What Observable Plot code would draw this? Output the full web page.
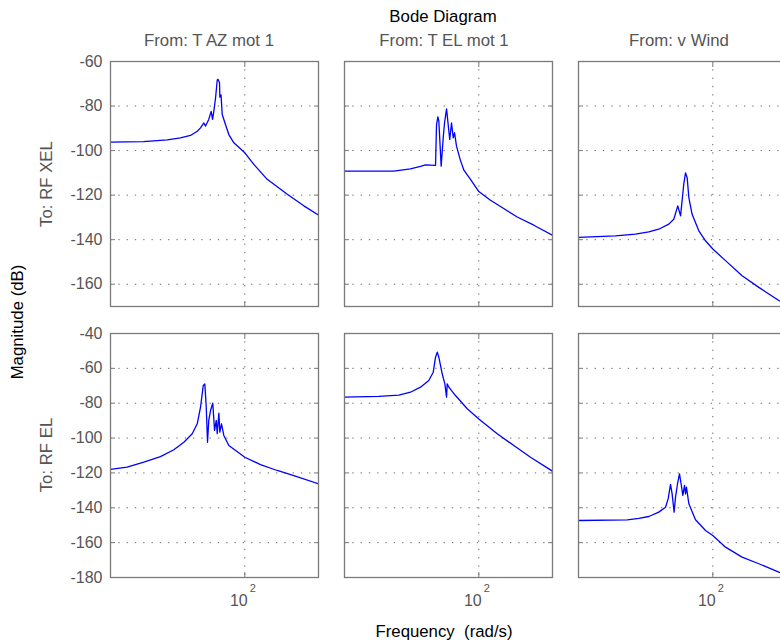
<!DOCTYPE html>
<html><head><meta charset="utf-8">
<script src="https://cdn.jsdelivr.net/npm/d3@7"></script>
<script src="https://cdn.jsdelivr.net/npm/@observablehq/plot@0.6"></script>
<style>
body{margin:0;background:#fff;}
#fig{position:relative;width:780px;height:641px;overflow:hidden;background:#fff;font-family:"Liberation Sans",Arial,sans-serif;}
.lbl{position:absolute;white-space:pre;font-size:16.8px;line-height:1;transform:translate(-50%,-50%);}
.rot{transform:translate(-50%,-50%) rotate(-90deg);}
</style></head><body><div id="fig"></div>
<script>
// ---- text ----
const chartTitle = "Bode Diagram";
const inputNames = ["From: T AZ mot 1", "From: T EL mot 1", "From: v Wind"];
const outputNames = ["To: RF XEL", "To: RF EL"];
const yTitle = "Magnitude (dB)";
const xTitle = "Frequency  (rad/s)";

// ---- scales / ticks ----
const freqDomain = [12, 320];
const topYDomain = [-170, -60];
const botYDomain = [-180, -40];
const topYTicks = [-160, -140, -120, -100, -80, -60];
const botYTicks = [-180, -160, -140, -120, -100, -80, -60, -40];
const xTicks = [100];
const xTickBase = "10";
const xTickExp = "2";

// ---- data: frequency (rad/s) and magnitude (dB) ----
const freqAZ_XEL = [12, 20.2, 29.4, 36.2, 42.4, 47.2, 49.7, 52.4, 53.8, 56.6, 58.8, 60.1, 61.3, 63.0, 64.7, 65.5, 67.1, 67.4, 68.7, 70.0, 73.7, 77.7, 84.1, 100, 115.3, 142.4, 195.5, 253.9, 320];
const magAZ_XEL  = [-96.2, -96.0, -95.2, -94.3, -93.2, -91.3, -89.8, -87.6, -89.0, -86.0, -82.4, -86.0, -82.4, -76.4, -68.3, -68.0, -69.5, -76.0, -75.0, -83.8, -88.3, -92.8, -96.5, -101.0, -106.2, -112.9, -119.6, -124.8, -128.9];

const freqEL_XEL = [12, 26.1, 34.0, 39.8, 43.1, 50.5, 51.3, 52.4, 53.2, 55.2, 57.0, 58.2, 60.1, 61.3, 63.2, 65.0, 66.8, 68.2, 70.3, 74.9, 79.2, 87.7, 100, 120.2, 140.9, 183.3, 238.3, 320];
const magEL_XEL  = [-109.2, -109.2, -108.2, -107.1, -106.4, -106.6, -88.3, -84.9, -86.8, -107.0, -94.3, -87.6, -81.3, -86.8, -95.0, -87.6, -94.3, -92.0, -98.0, -104.5, -108.9, -112.9, -118.4, -122.3, -125.1, -129.8, -133.5, -138.0];

const freqWind_XEL = [12, 21.5, 29.5, 36.4, 42.6, 49.9, 54.0, 57.5, 60.1, 63.2, 65.0, 66.7, 68.5, 72.1, 80.2, 89.1, 100, 122.2, 158.8, 206.7, 283.5, 320];
const magWind_XEL  = [-139.0, -138.3, -137.5, -136.5, -135.3, -133.0, -130.8, -124.8, -129.3, -115.1, -110.0, -112.2, -121.1, -128.6, -136.0, -140.5, -144.2, -149.4, -156.2, -161.4, -167.3, -169.0];

const freqAZ_EL = [12, 15.6, 20.3, 26.4, 32.6, 38.2, 43.6, 47.2, 49.7, 51.9, 53.2, 54.4, 55.5, 56.6, 58.2, 60.3, 62.0, 63.7, 64.7, 66.4, 67.4, 69.2, 71.8, 77.7, 100, 128.1, 166.8, 216.7, 320];
const magAZ_EL  = [-118.0, -116.7, -113.8, -110.6, -106.7, -102.4, -97.5, -91.8, -82.3, -69.8, -68.9, -82.3, -102.4, -89.9, -84.2, -80.0, -95.6, -89.9, -97.5, -85.7, -96.6, -91.8, -98.5, -104.3, -111.0, -115.2, -118.6, -121.5, -126.2];

const freqEL_EL = [12, 20.6, 28.3, 34.0, 39.8, 45.4, 48.7, 50.5, 51.9, 53.2, 56.1, 58.5, 60.1, 60.7, 62.3, 69.2, 83.3, 100, 133.7, 173.8, 226.1, 320];
const magEL_EL  = [-76.5, -76.1, -75.4, -73.7, -70.8, -67.0, -62.2, -53.6, -50.7, -53.6, -63.1, -68.9, -76.5, -68.9, -70.8, -75.6, -83.2, -89.0, -97.5, -104.3, -111.0, -119.0];

const freqWind_EL = [12, 25.9, 31.1, 36.4, 42.6, 47.4, 49.4, 51.3, 52.6, 54.3, 55.5, 57.3, 59.1, 60.6, 62.3, 64.0, 65.0, 66.0, 68.5, 76.1, 89.1, 100, 122.2, 158.8, 206.7, 283.5, 320];
const magWind_EL  = [-147.3, -146.9, -146.1, -145.0, -142.5, -139.7, -134.9, -126.6, -132.0, -142.5, -133.9, -126.2, -120.5, -126.2, -132.9, -127.2, -132.0, -128.2, -137.7, -146.9, -153.0, -155.9, -162.6, -168.3, -172.1, -176.9, -178.5];

const panels = [
  {row: 0, col: 0, f: freqAZ_XEL, m: magAZ_XEL},
  {row: 0, col: 1, f: freqEL_XEL, m: magEL_XEL},
  {row: 0, col: 2, f: freqWind_XEL, m: magWind_XEL},
  {row: 1, col: 0, f: freqAZ_EL, m: magAZ_EL},
  {row: 1, col: 1, f: freqEL_EL, m: magEL_EL},
  {row: 1, col: 2, f: freqWind_EL, m: magWind_EL}
];

// ---- layout ----
const fig = document.getElementById("fig");
const colLeft = [110, 344, 578];
const panelW = 208;
const rowTop = [61, 333];
const rowH = [245, 244];
const frameColor = "#7a7a7a";
const gridColor = "#666";
const tickColor = "#555";
const lineColor = "#0000ff";
const fontFam = "Liberation Sans, Arial, sans-serif";

panels.forEach(p => {
  const mL = p.col === 0 ? 60 : 6, mR = 6, mT = 6, mB = p.row === 1 ? 40 : 6;
  const yDom = p.row === 0 ? topYDomain : botYDomain;
  const yT = p.row === 0 ? topYTicks : botYTicks;
  const data = p.f.map((f, i) => ({f, db: p.m[i]}));
  const blank = () => "";
  const marks = [
    Plot.gridY(yT, {stroke: gridColor, strokeOpacity: 1, strokeDasharray: "1.3,7"}),
    Plot.gridX(xTicks, {stroke: gridColor, strokeOpacity: 1, strokeDasharray: "1.3,7"}),
    Plot.line(data, {x: "f", y: "db", stroke: lineColor, strokeWidth: 1.3, clip: true}),
    Plot.axisY(yT, {anchor: "left", tickSize: 5, dx: 5, tickFormat: blank, label: null, stroke: frameColor}),
    Plot.axisY(yT, {anchor: "right", tickSize: 5, dx: -5, tickFormat: blank, label: null, stroke: frameColor}),
    Plot.axisX(xTicks, {anchor: "top", tickSize: 5, dy: 5, tickFormat: blank, label: null, stroke: frameColor}),
    Plot.axisX(xTicks, {anchor: "bottom", tickSize: 5, dy: -5, tickFormat: blank, label: null, stroke: frameColor}),
    Plot.frame({stroke: frameColor, strokeWidth: 1.3})
  ];
  if (p.col === 0) {
    marks.push(Plot.axisY(yT, {anchor: "left", tickSize: 0, tickPadding: 8, label: null, tickFormat: d => String(d), fill: tickColor, fontSize: 16}));
  }
  if (p.row === 1) {
    marks.push(Plot.axisX(xTicks, {anchor: "bottom", tickSize: 0, tickPadding: 17, tickFormat: () => xTickBase, label: null, dx: -6, fill: tickColor, fontSize: 16}));
    marks.push(Plot.text(xTicks, {x: d => d, text: () => xTickExp, frameAnchor: "bottom", dy: 14, dx: 8, fontSize: 11, fill: tickColor}));
  }
  const svg = Plot.plot({
    width: panelW + mL + mR,
    height: rowH[p.row] + mT + mB,
    marginLeft: mL, marginRight: mR, marginTop: mT, marginBottom: mB,
    x: {type: "log", domain: freqDomain},
    y: {domain: yDom},
    style: {fontFamily: fontFam, fontSize: "16px", color: tickColor, background: "transparent", overflow: "visible"},
    marks
  });
  svg.style.position = "absolute";
  svg.style.left = (colLeft[p.col] - mL) + "px";
  svg.style.top = (rowTop[p.row] - mT) + "px";
  fig.appendChild(svg);
});

function label(text, cx, cy, color, rotate) {
  const d = document.createElement("div");
  d.className = "lbl" + (rotate ? " rot" : "");
  d.textContent = text;
  d.style.left = cx + "px";
  d.style.top = cy + "px";
  d.style.color = color;
  fig.appendChild(d);
}
label(chartTitle, 443, 17, "#000");
const titleX = [209, 444, 679];
inputNames.forEach((t, i) => label(t, titleX[i], 41, tickColor));
label(yTitle, 18, 322, "#000", true);
label(outputNames[0], 47, 184, tickColor, true);
label(outputNames[1], 47, 455, tickColor, true);
label(xTitle, 444, 632, "#000");
</script></body></html>
